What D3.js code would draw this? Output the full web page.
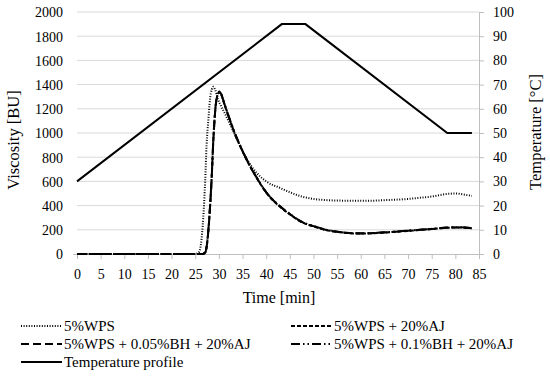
<!DOCTYPE html>
<html><head><meta charset="utf-8">
<script src="https://cdn.jsdelivr.net/npm/d3@7"></script>
<style>body{margin:0;background:#fff}svg{display:block}svg text{font-family:"Liberation Serif","Times New Roman","DejaVu Serif",serif !important;fill:#000}</style>
</head><body><svg id="c" width="550" height="382"></svg>
<script>
// ---- data ----
const xTicks = [0,5,10,15,20,25,30,35,40,45,50,55,60,65,70,75,80,85];
const yLeftTicks = [0,200,400,600,800,1000,1200,1400,1600,1800,2000];
const yRightTicks = [0,10,20,30,40,50,60,70,80,90,100];

const timeWPS = [0,25,25.7,26.2,26.7,27.1,27.4,27.8,28.1,28.5,28.8,29.2,29.8,30.5,31.6,33,35.5,38,40,43,45,47.5,50,53,55,58,62,65,70,72.5,75,78,80,82,83.5];
const wps     = [0,0,10,80,300,600,900,1120,1270,1360,1383,1360,1280,1220,1135,1020,810,670,600,545,510,475,455,445,442,440,440,445,455,465,475,495,500,490,480];

const timeAJ = [0,26.5,27.1,27.6,28.1,28.5,28.8,29.1,29.4,29.8,30.1,30.5,31,31.6,33,35.5,38,40,43,45,47.5,50,52.5,55,57.5,60,65,70,75,78,80,82,83.5];
const wpsAJ      = [0,0,10,120,370,650,920,1120,1250,1320,1338,1318,1258,1188,1033,808,628,508,388,328,263,228,199,183,172,169,177,191,206,216,219,217,212];
const wpsBH005AJ = [0,0,10,120,370,650,920,1120,1250,1320,1341,1320,1260,1190,1035,810,630,510,390,330,265,230,200,184,173,170,178,192,207,217,220,218,213];
const wpsBH01AJ  = [0,0,12,125,375,655,925,1125,1255,1322,1342,1322,1262,1192,1037,812,632,512,392,332,267,232,202,185,174,171,179,193,208,218,221,219,214];

const timeTemp = [0,43.3,48.3,78.3,83.5];
const temp     = [30,95,95,50,50];

const seriesNames = ["5%WPS","5%WPS + 20%AJ","5%WPS + 0.05%BH + 20%AJ","5%WPS + 0.1%BH + 20%AJ","Temperature profile"];

// ---- chart ----
const svg = d3.select("#c");
const x = d3.scaleLinear().domain([0,85]).range([77,479]);
const yL = d3.scaleLinear().domain([0,2000]).range([254,12]);
const yR = d3.scaleLinear().domain([0,100]).range([254,12]);

// gridlines
svg.append("g").selectAll("line").data(yLeftTicks.slice(1)).join("line")
  .attr("x1",77).attr("x2",479).attr("y1",d=>yL(d)).attr("y2",d=>yL(d))
  .attr("stroke","#d9d9d9").attr("stroke-width",1);

// bottom axis
const gx = svg.append("g").attr("transform","translate(0,254)")
  .call(d3.axisBottom(x).tickValues(xTicks).tickSize(5).tickPadding(10).tickFormat(d3.format("d")));
gx.attr("font-family",null);
gx.select(".domain").attr("stroke","#bfbfbf");
gx.selectAll(".tick line").attr("stroke","#bfbfbf");
gx.selectAll("text").attr("font-size",14);

// left axis (labels only, small tick at 0)
const gl = svg.append("g").attr("transform","translate(77,0)")
  .call(d3.axisLeft(yL).tickValues(yLeftTicks).tickSize(0).tickPadding(14).tickFormat(d3.format("d")));
gl.attr("font-family",null);
gl.select(".domain").remove();
gl.selectAll("text").attr("font-size",14).attr("dy","0.35em");
gl.selectAll(".tick").filter(d=>d===0).select("line").attr("x2",-4).attr("stroke","#bfbfbf");

// right axis
const gr = svg.append("g").attr("transform","translate(479,0)")
  .call(d3.axisRight(yR).tickValues(yRightTicks).tickSize(5).tickPadding(9).tickFormat(d3.format("d")));
gr.attr("font-family",null);
gr.select(".domain").attr("stroke","#bfbfbf");
gr.selectAll(".tick line").attr("stroke","#bfbfbf");
gr.selectAll("text").attr("font-size",14);

// titles
svg.append("text").attr("transform","translate(19,140) rotate(-90)").attr("text-anchor","middle")
  .attr("font-size",16.5).text("Viscosity [BU]");
svg.append("text").attr("transform","translate(541,132) rotate(-90)").attr("text-anchor","middle")
  .attr("font-size",16.5).text("Temperature [°C]");
svg.append("text").attr("x",279).attr("y",303).attr("text-anchor","middle")
  .attr("font-size",16).text("Time [min]");

// lines
const dashes = ["1,1.6","4,2","8,4","9,3,1.5,3,1.5,3",null];
function line(ts, vs, ys, smooth){
  const g = d3.line().x((d,i)=>x(ts[i])).y(d=>ys(d));
  if (smooth) g.curve(d3.curveMonotoneX);
  return g(vs);
}
const plotData = [
  [timeWPS, wps, yL, true],
  [timeAJ, wpsAJ, yL, true],
  [timeAJ, wpsBH005AJ, yL, true],
  [timeAJ, wpsBH01AJ, yL, true],
  [timeTemp, temp, yR, false]
];
plotData.forEach((p,i)=>{
  svg.append("path").attr("d", line(p[0],p[1],p[2],p[3])).attr("fill","none")
    .attr("stroke","#000").attr("stroke-width", 2)
    .attr("stroke-dasharray", dashes[i]);
});

// legend
const legPos = [[21,326],[291,326],[21,344],[291,344],[21,362]];
seriesNames.forEach((n,i)=>{
  const [lx,ly] = legPos[i];
  svg.append("line").attr("x1",lx).attr("x2",lx+41).attr("y1",ly).attr("y2",ly)
    .attr("stroke","#000").attr("stroke-width",2).attr("stroke-dasharray",dashes[i]);
  svg.append("text").attr("x",lx+43).attr("y",ly+5).attr("font-size",15).text(n);
});
</script></body></html>
